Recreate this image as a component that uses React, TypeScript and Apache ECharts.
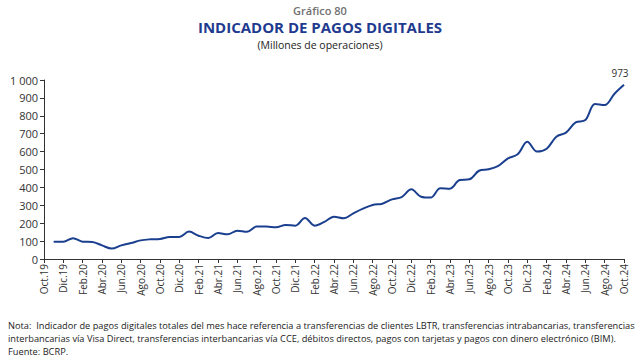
import React, { useEffect, useRef } from "react";
import * as echarts from "echarts";

const monthNames = ["Ene", "Feb", "Mar", "Abr", "May", "Jun", "Jul", "Ago", "Set", "Oct", "Nov", "Dic"];

// Oct.19 .. Oct.24 (61 months)
const categories: string[] = (() => {
  const out: string[] = [];
  for (let i = 0; i < 61; i++) {
    const mIdx = (9 + i) % 12;
    const yr = 19 + Math.floor((9 + i) / 12);
    out.push(`${monthNames[mIdx]}.${yr}`);
  }
  return out;
})();

// Millones de operaciones, Nov.19 .. Oct.24 (Oct.19 has no value)
const pagosDigitales: (number | null)[] = [
  null,
  97, 97, 116, 97, 95, 76, 58, 76, 89, 104, 110, 112,
  123, 123, 153, 130, 117, 145, 138, 158, 152, 181, 181, 177,
  190, 186, 229, 186, 207, 236, 227, 255, 281, 302, 309, 333,
  346, 389, 348, 343, 395, 393, 441, 445, 493, 501, 520, 562,
  585, 655, 600, 616, 683, 706, 763, 776, 866, 860, 922, 973,
];

const yTicks = { min: 0, max: 1000, interval: 100 };

const titleTop = "Gráfico 80";
const titleMain = "INDICADOR DE PAGOS DIGITALES";
const subtitle = "(Millones de operaciones)";
const noteLines = [
  "Nota:  Indicador de pagos digitales totales del mes hace referencia a transferencias de clientes LBTR, transferencias intrabancarias, transferencias",
  "interbancarias vía Visa Direct, transferencias interbancarias vía CCE, débitos directos, pagos con tarjetas y pagos con dinero electrónico (BIM).",
  "Fuente: BCRP.",
];

const LINE_COLOR = "#1b3f8f";
const FONT = "'Open Sans', 'Noto Sans', sans-serif";

export default function App() {
  const ref = useRef<HTMLDivElement>(null);

  useEffect(() => {
    if (!ref.current) return;
    const chart = echarts.init(ref.current, undefined, { renderer: "svg" });
    const lastIdx = pagosDigitales.length - 1;
    const lastVal = pagosDigitales[lastIdx] as number;

    chart.setOption({
      animation: false,
      textStyle: { fontFamily: FONT },
      grid: { left: 44, right: 16, top: 80, bottom: 103, containLabel: false },
      xAxis: {
        type: "category",
        data: categories,
        boundaryGap: false,
        axisLine: { show: true, lineStyle: { color: "#333", width: 1 } },
        axisTick: { show: true, interval: 1, length: 4, lineStyle: { color: "#333" } },
        axisLabel: {
          interval: 1,
          rotate: 90,
          fontSize: 10,
          color: "#333",
          margin: 5,
          fontFamily: FONT,
        },
        splitLine: { show: false },
      },
      yAxis: {
        type: "value",
        min: yTicks.min,
        max: yTicks.max,
        interval: yTicks.interval,
        axisLine: { show: true, lineStyle: { color: "#333", width: 1 } },
        axisTick: { show: true, length: 4, lineStyle: { color: "#333" } },
        axisLabel: {
          fontSize: 11,
          color: "#333",
          margin: 6,
          fontFamily: FONT,
          formatter: (v: number) => String(v).replace(/\B(?=(\d{3})+(?!\d))/g, " "),
        },
        splitLine: { show: false },
      },
      series: [
        {
          type: "line",
          data: pagosDigitales,
          smooth: 0.35,
          showSymbol: false,
          symbol: "none",
          connectNulls: false,
          lineStyle: { color: LINE_COLOR, width: 2 },
          itemStyle: { color: LINE_COLOR },
          markPoint: {
            symbol: "circle",
            symbolSize: 1,
            itemStyle: { color: "rgba(0,0,0,0)" },
            label: {
              show: true,
              position: "top",
              distance: 6,
              offset: [-4, 0],
              color: "#333",
              fontSize: 10,
              fontFamily: FONT,
              formatter: "{c}",
            },
            data: [{ coord: [lastIdx, lastVal], value: lastVal }],
          },
        },
      ],
      graphic: [
        {
          type: "text",
          left: "center",
          top: 5,
          style: { text: titleTop, fontSize: 11, fontWeight: 600, fill: "#707070", fontFamily: FONT },
        },
        {
          type: "text",
          left: "center",
          top: 19,
          style: { text: titleMain, fontSize: 15, fontWeight: "bold", fill: "#1f3b8f", fontFamily: FONT },
        },
        {
          type: "text",
          left: "center",
          top: 39,
          style: { text: subtitle, fontSize: 10.5, fill: "#222", fontFamily: FONT },
        },
        ...noteLines.map((t, i) => ({
          type: "text",
          left: 8,
          top: 321 + i * 13,
          style: { text: t, fontSize: 9.25, fill: "#222", fontFamily: FONT },
        })),
      ],
    });
    return () => chart.dispose();
  }, []);

  return (
    <div
      ref={ref}
      style={{ position: "absolute", left: 0, top: 0, width: 640, height: 362, background: "#fff" }}
    />
  );
}
